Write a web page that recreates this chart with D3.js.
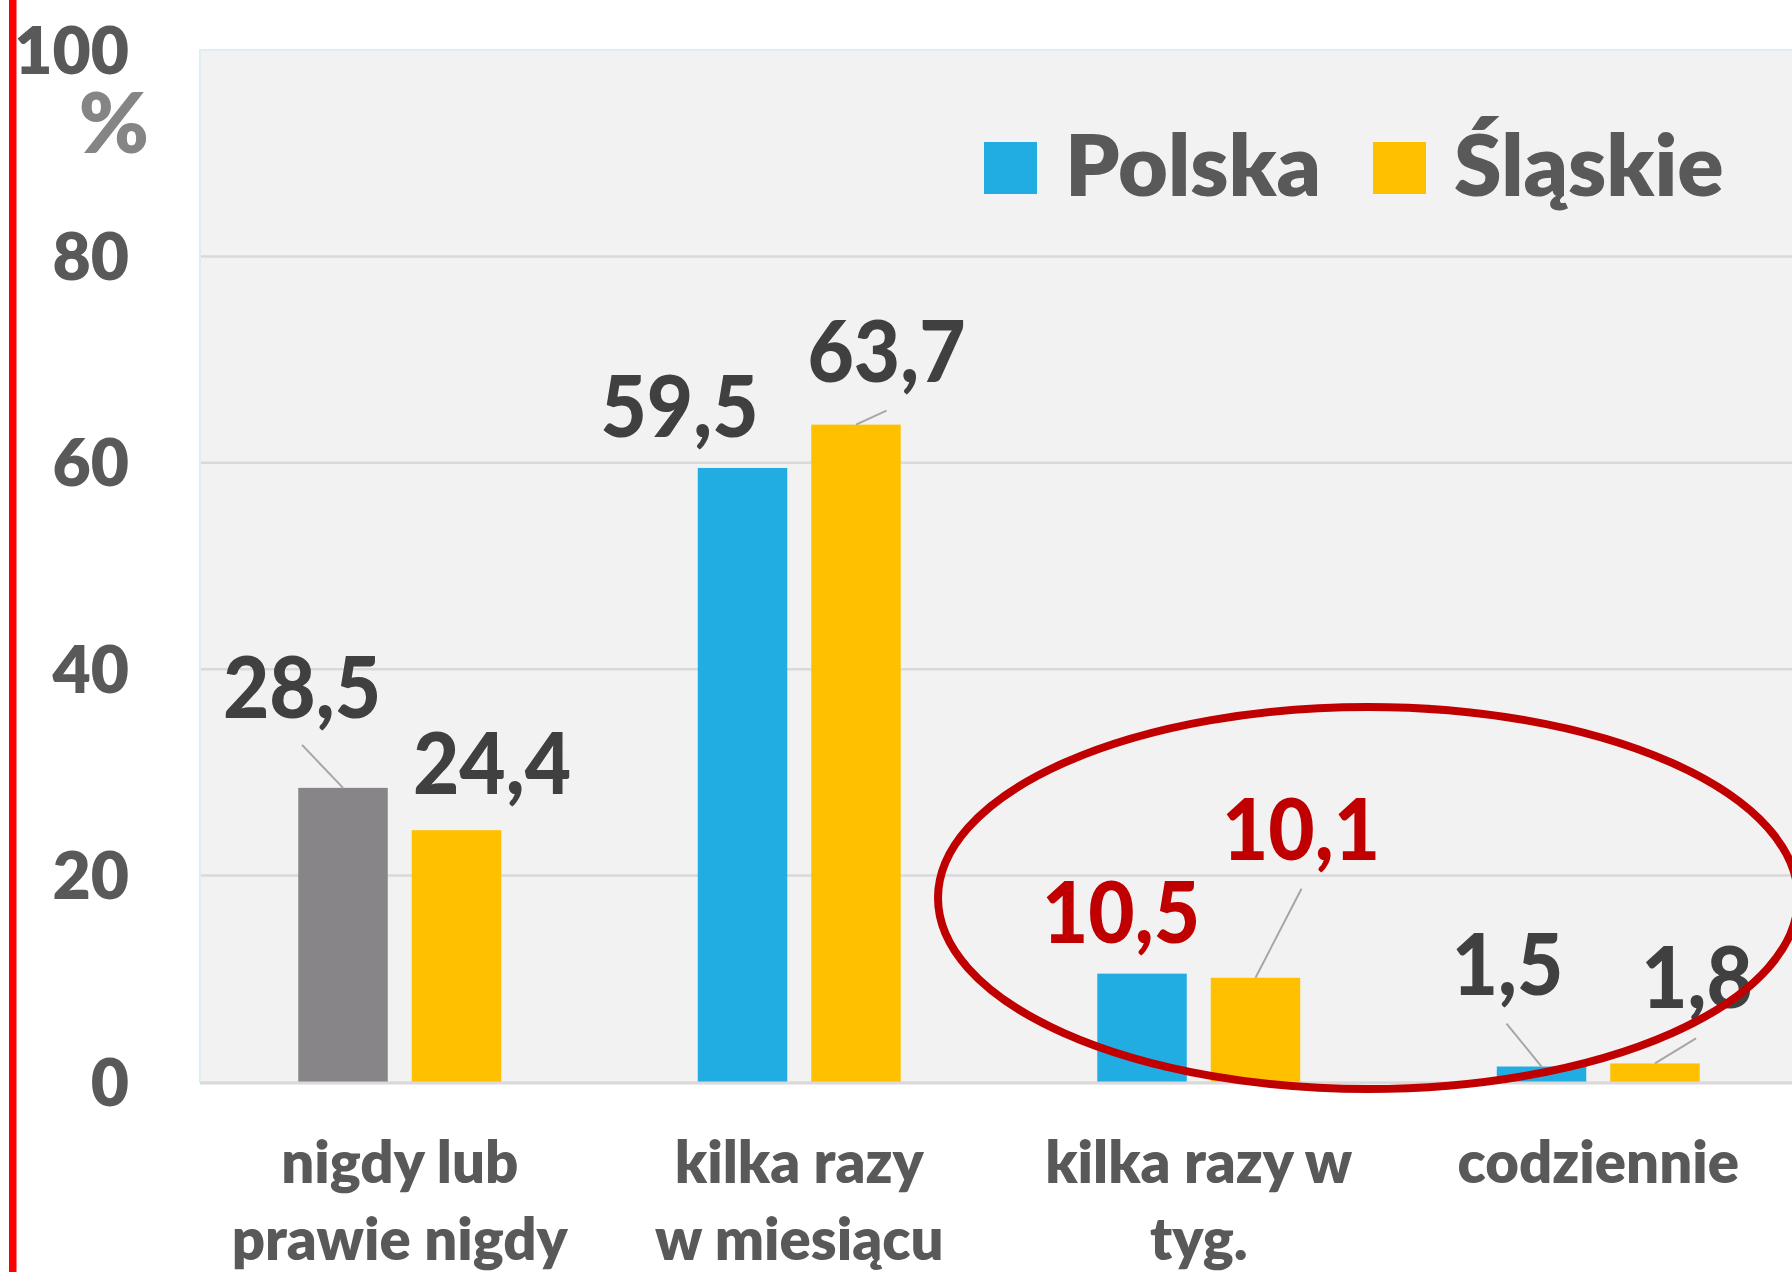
<!DOCTYPE html>
<html><head><meta charset="utf-8">
<script src="https://cdn.jsdelivr.net/npm/d3@7"></script>
<style>
body{margin:0;background:#fff;overflow:hidden}
text{font-family:Lato,"Open Sans",sans-serif;font-weight:700}
</style>
</head><body>
<svg id="c" width="1792" height="1272"></svg>
<script>
// ---- data ----
const categories = ["nigdy lub prawie nigdy","kilka razy w miesiącu","kilka razy w tyg.","codziennie"];
const categoryLines = [["nigdy lub","prawie nigdy"],["kilka razy","w miesiącu"],["kilka razy w","tyg."],["codziennie"]];
const seriesNames = ["Polska","Śląskie"];
const polska = [28.5, 59.5, 10.5, 1.5];
const slaskie = [24.4, 63.7, 10.1, 1.8];
const yTicks = [0, 20, 40, 60, 80, 100];
const unitLabel = "%";

// ---- layout / style ----
const W = 1792, H = 1272;
const plot = {left: 200, right: 1798, top: 50, bottom: 1082};
const colors = {Polska: "#21ACE2", "Śląskie": "#FFC000"};
const firstBarColor = "#878587";
const highlightCat = 2;
// label offsets relative to bar top-centre: [dx, baselineDy]
const labelOffsets = [[[-41,-70],[35.5,-36]],[[-63,-31],[30.5,-43]],[[-21,-31],[45.5,-118]],[[-34,-72],[42,-55]]];
// leader line starts relative to bar top-centre (null = none)
const leaderStarts = [[[-41,-43],null],[null,[30.5,-14]],[null,[46,-89]],[[-35,-43],[41,-25]]];

const svg = d3.select("#c");
svg.append("rect").attr("width",W).attr("height",H).attr("fill","#fff");

const x0 = d3.scaleBand().domain(categories).range([plot.left, plot.right]).padding(0);
const x1 = d3.scaleBand().domain(seriesNames).range([0, x0.bandwidth()]).paddingInner(0.2115).paddingOuter(0.866);
const y = d3.scaleLinear().domain([0,100]).range([plot.bottom, plot.top]);

// plot area
svg.append("rect").attr("x",plot.left).attr("y",plot.top)
  .attr("width",plot.right-plot.left+20).attr("height",plot.bottom-plot.top)
  .attr("fill","#F2F2F2").attr("stroke","#DAEEF3").attr("stroke-width",2);

// gridlines
svg.append("g").selectAll("line").data(yTicks.filter(d=>d>0 && d<100)).join("line")
  .attr("x1",plot.left+1).attr("x2",W).attr("y1",d=>y(d)).attr("y2",d=>y(d))
  .attr("stroke","#D9D9D9").attr("stroke-width",2.5);

// y axis labels
const yAxis = d3.axisLeft(y).tickValues(yTicks).tickSize(0).tickPadding(0).tickFormat(d3.format("d"));
const gy = svg.append("g").attr("transform","translate(129,0)").call(yAxis);
gy.select(".domain").remove();
gy.selectAll("text").attr("font-size",66).attr("fill","#595959").attr("dy","0.35em")
  .style("font-family","Lato").style("font-weight",800);
// unit "%" under the top tick label
gy.selectAll(".tick").filter(d=>d===100).select("text")
  .append("tspan").attr("x",20).attr("dy",79).attr("font-size",84).attr("fill","#858585").text(unitLabel);

// bars
const rows = categories.map((c,i)=>({cat:c, i, vals:[polska[i], slaskie[i]]}));
const groups = svg.append("g").selectAll("g").data(rows).join("g")
  .attr("transform",d=>`translate(${x0(d.cat)},0)`);

groups.selectAll("rect").data(d=>d.vals.map((v,j)=>({v,j,i:d.i,s:seriesNames[j]}))).join("rect")
  .attr("x",d=>x1(d.s)).attr("width",x1.bandwidth())
  .attr("y",d=>y(d.v)).attr("height",d=>y(0)-y(d.v))
  .attr("fill",d=>(d.i===0&&d.j===0)?firstBarColor:colors[d.s]);

// axis baseline
svg.append("line").attr("x1",plot.left).attr("x2",W).attr("y1",plot.bottom+1).attr("y2",plot.bottom+1)
  .attr("stroke","#D9D9D9").attr("stroke-width",3);

// leader lines
groups.selectAll("line.leader").data(d=>d.vals.map((v,j)=>({v,j,i:d.i,s:seriesNames[j]})).filter(d=>leaderStarts[d.i][d.j])).join("line")
  .attr("class","leader")
  .attr("x1",d=>x1(d.s)+x1.bandwidth()/2+leaderStarts[d.i][d.j][0])
  .attr("y1",d=>y(d.v)+leaderStarts[d.i][d.j][1])
  .attr("x2",d=>x1(d.s)+x1.bandwidth()/2)
  .attr("y2",d=>y(d.v))
  .attr("stroke","#A6A6A6").attr("stroke-width",2);

// value labels
const fmt = v => d3.format(".1f")(v).replace(".",",");
groups.selectAll("text.val").data(d=>d.vals.map((v,j)=>({v,j,i:d.i,s:seriesNames[j]}))).join("text")
  .attr("class","val")
  .attr("transform",d=>`translate(${x1(d.s)+x1.bandwidth()/2+labelOffsets[d.i][d.j][0]},${y(d.v)+labelOffsets[d.i][d.j][1]}) scale(0.93,1)`)
  .attr("text-anchor","middle").attr("font-size",86).style("font-weight",900)
  .attr("fill",d=>d.i===highlightCat?"#C00000":"#404040")
  .text(d=>fmt(d.v));

// category labels
const cl = svg.append("g").selectAll("text").data(categories).join("text")
  .attr("transform",d=>`translate(${x0(d)+x0.bandwidth()/2},1183)`)
  .attr("text-anchor","middle").attr("font-size",58).attr("fill","#595959").style("font-weight",800);
cl.selectAll("tspan").data((d,i)=>categoryLines[i]).join("tspan")
  .attr("x",0).attr("dy",(d,k)=>k===0?0:77).text(d=>d);

// legend
const legend = svg.append("g");
const legendX = [984, 1373];
seriesNames.forEach((s,k)=>{
  legend.append("rect").attr("x",legendX[k]).attr("y",142).attr("width",53).attr("height",52).attr("fill",colors[s]);
  legend.append("text").attr("x",legendX[k]+81).attr("y",196).attr("font-size",86).attr("fill","#595959")
    .style("font-weight",800).text(s);
});

// highlight ellipse
svg.append("ellipse").attr("cx",1368).attr("cy",898).attr("rx",430).attr("ry",191)
  .attr("fill","none").attr("stroke","#C00000").attr("stroke-width",8);

// red left border
svg.append("rect").attr("x",9).attr("y",0).attr("width",7.5).attr("height",H).attr("fill","#FF0000");
</script>
</body></html>
